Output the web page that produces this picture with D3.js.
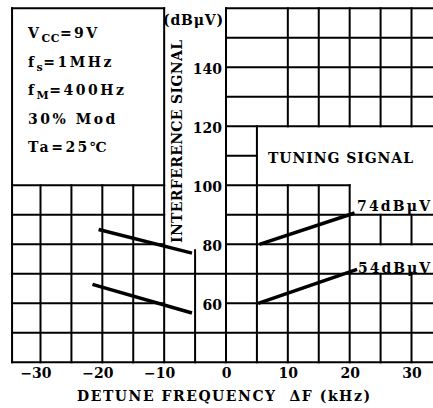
<!DOCTYPE html>
<html>
<head>
<meta charset="utf-8">
<script src="https://cdn.jsdelivr.net/npm/d3@7"></script>
<style>
  body { margin: 0; background: #fff; }
  text { font-family: "DejaVu Serif", serif; font-weight: bold; fill: #000; white-space: pre; }
</style>
</head>
<body>
<div id="container"></div>
<script>
/* CONSTANTS AND GLOBALS */
const width = 433,
  height = 408;

// DATA (detune kHz, dBuV)
const interf74 = [[-20.6, 85.0], [-5.5, 77.0]];
const interf54 = [[-21.6, 66.4], [-5.5, 56.7]];
const tuning74 = [[5.4, 80.0], [20.8, 90.6]];
const tuning54 = [[5.2, 60.0], [21.2, 71.5]];

const xTicks = [-30, -20, -10, 0, 10, 20, 30];
const yTicks = [60, 80, 100, 120, 140];

const conditions = ["Vcc=9V", "fs=1MHz", "fM=400Hz", "30% Mod", "Ta=25℃"];

// grid pieces: vertical [x, yFrom, yTo], horizontal [y, xFrom, xTo]
const L = -34.6, R = 36;
const vGrid = [
  [L, 40, 160],
  [-30, 40, 100], [-25, 40, 100], [-20, 40, 100], [-15, 40, 100],
  [-10, 40, 160], [-5, 40, 78], [0, 40, 160], [5, 40, 120],
  [10, 40, 100], [10, 120, 160], [15, 40, 100], [15, 120, 160],
  [20, 40, 100], [20, 120, 160],
  [25, 40, 70], [25, 80, 90], [25, 120, 160],
  [30, 40, 70], [30, 80, 90], [30, 120, 160]
];
const hGrid = [
  [160, L, -10], [160, 0, R],
  [150, 0, R], [140, 0, R], [130, 0, R], [120, 0, R],
  [110, 0, 5],
  [100, L, -10], [100, 0, 20],
  [90, L, -10], [90, 0, R],
  [80, L, -10], [80, 0, R],
  [70, L, R],
  [60, L, -10], [60, 0, R],
  [50, L, R],
  [40, L, R]
];

// SCALES
const x = d3.scaleLinear().domain([-30, 30]).range([40.5, 411.5]);
const y = d3.scaleLinear().domain([40, 160]).range([362.3, 8.3]);

const svg = d3.select("#container")
  .append("svg")
  .attr("width", width)
  .attr("height", height);

// GRID
svg.selectAll("line.v")
  .data(vGrid)
  .join("line")
  .attr("class", "v")
  .attr("x1", d => x(d[0])).attr("x2", d => x(d[0]))
  .attr("y1", d => y(d[1])).attr("y2", d => y(d[2]))
  .attr("stroke", "#000")
  .attr("stroke-width", 2)
  .attr("stroke-linecap", "square");

svg.selectAll("line.h")
  .data(hGrid)
  .join("line")
  .attr("class", "h")
  .attr("y1", d => y(d[0])).attr("y2", d => y(d[0]))
  .attr("x1", d => x(d[1])).attr("x2", d => x(d[2]))
  .attr("stroke", "#000")
  .attr("stroke-width", 2)
  .attr("stroke-linecap", "square");

// DATA LINES
const lineGen = d3.line().x(d => x(d[0])).y(d => y(d[1]));
svg.selectAll("path.curve")
  .data([interf74, interf54, tuning74, tuning54])
  .join("path")
  .attr("class", "curve")
  .attr("d", d => lineGen(d))
  .attr("fill", "none")
  .attr("stroke", "#000")
  .attr("stroke-width", 3.5);

// AXES (labels only, grid does the lines)
const xAxis = svg.append("g")
  .attr("transform", `translate(0, ${y(40)})`)
  .call(d3.axisBottom(x).tickValues(xTicks).tickSize(0).tickPadding(6)
    .tickFormat(d => d < 0 ? "−" + Math.abs(d) : d));
xAxis.select(".domain").remove();
xAxis.selectAll("text")
  .attr("font-size", 14)
  .attr("font-family", null)
  .attr("font-weight", "normal")
  .attr("dx", d => d < 0 ? -5 : 0);

const yAxis = svg.append("g")
  .attr("transform", `translate(${x(0)}, 0)`)
  .call(d3.axisLeft(y).tickValues(yTicks).tickSize(0).tickPadding(4));
yAxis.select(".domain").remove();
yAxis.selectAll("text")
  .attr("font-size", 14)
  .attr("font-family", null)
  .attr("font-weight", "normal")
  .attr("dy", "0.45em");

// TEXT
function label(tx, ty, str, size, len) {
  const t = svg.append("text")
    .attr("x", tx).attr("y", ty)
    .attr("font-size", size)
    .text(str);
  if (len) t.attr("textLength", len).attr("lengthAdjust", "spacing");
  return t;
}

label(77, 401, "DETUNE FREQUENCY  ΔF (kHz)", 14, 293);
label(268, 163, "TUNING SIGNAL", 14, 145);
label(357, 211, "74dBμV", 14, 73);
label(358, 273, "54dBμV", 14, 72);
label(163, 25, "(dBμV)", 14, 60).attr("font-weight", "normal");

svg.append("text")
  .attr("transform", "translate(182, 243) rotate(-90)")
  .attr("font-size", 14)
  .attr("textLength", 203)
  .attr("lengthAdjust", "spacing")
  .text("INTERFERENCE SIGNAL");

// conditions box
const cond = svg.append("g");
conditions.forEach((c, i) => {
  const t = cond.append("text")
    .attr("x", 28)
    .attr("y", 38 + i * 28.5)
    .attr("font-size", 14)
    .attr("letter-spacing", 2.5);
  if (i === 0 || i === 1 || i === 2) {
    t.append("tspan").text(c[0]);
    const sub = i === 0 ? "CC" : c[1];
    t.append("tspan").attr("font-size", 11).attr("dy", 4).attr("letter-spacing", 0.5).text(sub);
    t.append("tspan").attr("dy", -4).text(c.slice(i === 0 ? 3 : 2));
  } else {
    t.text(c);
  }
});
</script>
</body>
</html>
